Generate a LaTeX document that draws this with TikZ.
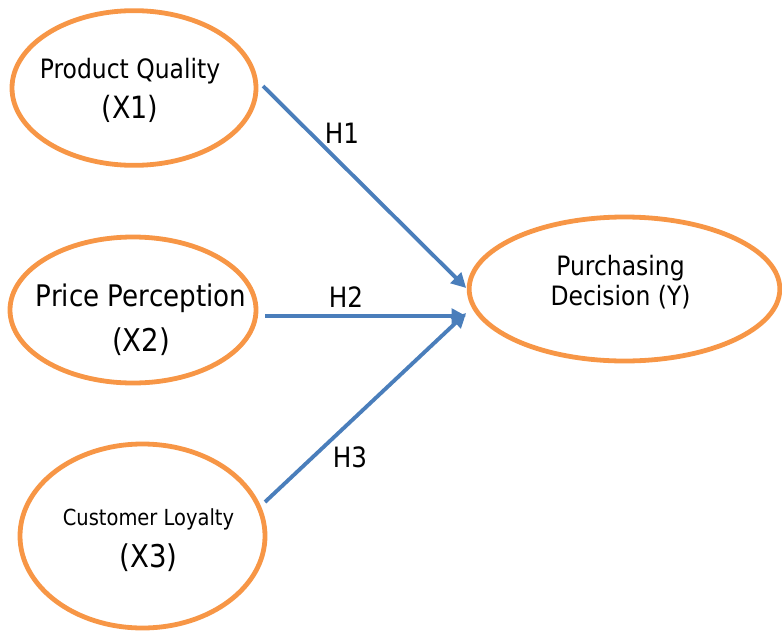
\documentclass[tikz,border=0pt]{standalone}
\usepackage{fontspec}
\setmainfont{DejaVu Sans}[FakeStretch=0.88]
\usepackage{xcolor}
\definecolor{vizOrange}{HTML}{F79646}
\definecolor{vizBlue}{HTML}{4A7EBB}
\usetikzlibrary{shapes.geometric,arrows.meta}

\tikzset{
  latent/.style={ellipse, draw=vizOrange, line width=3.6pt, inner sep=0pt, outer sep=0pt},
  ltext/.style={align=center, inner sep=0pt},
  hpath/.style={vizBlue, line width=2.9pt, -{Triangle[length=11pt,width=11pt]}},
  hlabel/.style={font=\fontsize{21}{24}\selectfont}
}

\begin{document}
\begin{tikzpicture}[x=0.75pt, y=-0.75pt]
  \useasboundingbox (0,0) rectangle (782,632);
  % latent variables
  \node[latent, minimum width=183pt, minimum height=116pt] (E1) at (134,88) {};
  \node[latent, minimum width=184.5pt, minimum height=109.5pt] (E2) at (133,310) {};
  \node[latent, minimum width=183.75pt, minimum height=138pt] (E3) at (142.5,536) {};
  \node[latent, minimum width=233pt, minimum height=108pt] (E4) at (624.5,289) {};
  \node[ltext, font=\fontsize{20}{30}\selectfont] (T1) at ([shift={(-4,2)}]E1.center) {Product Quality\\{\fontsize{23}{30}\selectfont (X1)}};
  \node[ltext, font=\fontsize{22.3}{34}\selectfont] (T2) at ([shift={(8,10)}]E2.center) {Price Perception\\{\fontsize{23.5}{34}\selectfont (X2)}};
  \node[ltext, font=\fontsize{16.6}{31}\selectfont] (T3) at ([shift={(6,4)}]E3.center) {Customer Loyalty\\{\fontsize{23.5}{31}\selectfont (X3)}};
  \node[ltext, font=\fontsize{20}{22}\selectfont] (T4) at ([shift={(-4,-7)}]E4.center) {Purchasing\\Decision (Y)};
  % hypotheses
  \draw[hpath] ([shift={(7,-2)}]E1.east) -- ([shift={(-3,-1)}]E4.west);
  \draw[hpath] ([shift={(9,6)}]E2.east) -- ([shift={(-3,27)}]E4.west);
  \draw[hpath] ([shift={(0,-34)}]E3.east) -- ([shift={(-3,24)}]E4.west);
  \node[hlabel] (H1) at (342,133) {H1};
  \node[hlabel] (H2) at (346,297) {H2};
  \node[hlabel] (H3) at (350,457) {H3};
\end{tikzpicture}
\end{document}
